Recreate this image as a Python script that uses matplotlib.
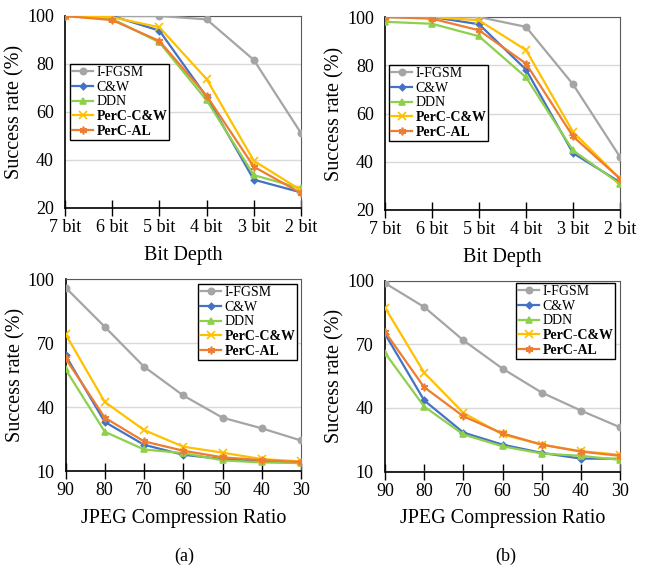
import matplotlib
matplotlib.use("Agg")
import matplotlib.pyplot as plt

# ---------------------------------------------------------------------------
# Data
# ---------------------------------------------------------------------------

METHODS = ["I-FGSM", "C&W", "DDN", "PerC-C&W", "PerC-AL"]
BIT_LABELS = ["7 bit", "6 bit", "5 bit", "4 bit", "3 bit", "2 bit"]
JPEG_LABELS = ["90", "80", "70", "60", "50", "40", "30"]

# (a) bit depth
bit_a_ifgsm = [100, 100, 100, 98.6, 81.7, 51.2]
bit_a_cw    = [100, 100, 93.9, 66.3, 31.8, 26.5]
bit_a_ddn   = [100, 98.8, 89.0, 64.9, 33.7, 28.2]
bit_a_pcw   = [100, 99.5, 95.3, 73.7, 39.7, 27.4]
bit_a_pal   = [100, 98.3, 89.6, 66.8, 37.2, 26.2]

# (b) bit depth
bit_b_ifgsm = [100, 100, 100, 95.9, 72.1, 42.0]
bit_b_cw    = [100, 100, 97.0, 78.2, 43.6, 31.5]
bit_b_ddn   = [98.0, 97.2, 92.0, 75.0, 44.7, 30.8]
bit_b_pcw   = [100, 100, 98.6, 86.3, 52.4, 33.0]
bit_b_pal   = [100, 99.3, 94.5, 80.7, 50.5, 33.0]

# (a) JPEG
jpg_a_ifgsm = [96.0, 77.6, 58.9, 45.4, 35.0, 30.0, 24.3]
jpg_a_cw    = [64.2, 33.0, 22.3, 17.6, 15.6, 14.5, 14.0]
jpg_a_ddn   = [57.7, 28.4, 20.1, 18.4, 15.0, 14.0, 13.7]
jpg_a_pcw   = [74.2, 42.4, 29.2, 21.4, 18.6, 15.6, 14.5]
jpg_a_pal   = [62.8, 35.0, 23.9, 19.5, 16.4, 15.1, 14.2]

# (b) JPEG
jpg_b_ifgsm = [99.0, 87.7, 72.0, 58.6, 47.3, 38.8, 30.9]
jpg_b_cw    = [75.0, 43.6, 28.4, 22.7, 18.8, 16.1, 16.0]
jpg_b_ddn   = [66.0, 40.7, 27.5, 21.9, 18.5, 17.4, 15.5]
jpg_b_pcw   = [87.4, 56.7, 37.7, 27.5, 22.7, 19.6, 17.9]
jpg_b_pal   = [76.0, 49.8, 36.1, 28.0, 22.7, 19.4, 17.4]

# ---------------------------------------------------------------------------
# Styles
# ---------------------------------------------------------------------------

COLORS  = ["#A5A5A5", "#4472C4", "#8ED04B", "#FFC000", "#ED7D31"]
MARKERS = ["o", "D", "^", "x", (6, 2, 0)]
MSIZES  = [4.5, 3.2, 4.5, 5.5, 5.5]

plt.rcParams["font.family"] = ["Liberation Serif", "DejaVu Serif"]

fig = plt.figure(figsize=(6.48, 5.69), dpi=100)
W, H = 648, 569


def px_axes(left, top, right, bottom):
    return fig.add_axes([left / W, 1 - bottom / H, (right - left) / W, (bottom - top) / H])


def draw_panel(ax, labels, series, ylim, yticks, xlabel, legend_box):
    xs = list(range(len(labels)))
    handles = []
    for vals, name, c, m, ms in zip(series, METHODS, COLORS, MARKERS, MSIZES):
        h, = ax.plot(xs, vals, color=c, marker=m, markersize=ms, linewidth=1.6,
                     markeredgewidth=1.2, label=name, zorder=3)
        handles.append(h)
    ax.set_xlim(0, len(labels) - 1)
    ax.set_ylim(*ylim)
    ax.set_yticks(yticks)
    ax.set_xticks(xs)
    ax.set_xticklabels(labels)
    ax.grid(axis="y", color="#D9D9D9", linewidth=1.0, zorder=0)
    ax.tick_params(axis="y", length=0, pad=8, labelsize=13)
    ax.tick_params(axis="x", direction="inout", length=12, width=1.0, pad=2, labelsize=13)
    for s in ("left", "bottom"):
        ax.spines[s].set_color("black")
        ax.spines[s].set_linewidth(1.2)
    for s in ("top", "right"):
        ax.spines[s].set_color("#595959")
        ax.spines[s].set_linewidth(0.8)
    ax.set_xlabel(xlabel, fontsize=14.5, labelpad=7)
    ax.set_ylabel("Success rate (%)", fontsize=14.5)
    ax.yaxis.set_label_coords(-0.172, 0.5)

    lx, ly = legend_box
    leg = ax.legend(handles=handles, loc="upper left",
                    bbox_to_anchor=(lx / W, 1 - ly / H),
                    bbox_transform=fig.transFigure,
                    fontsize=10, frameon=True, fancybox=False,
                    edgecolor="black", framealpha=1, borderpad=0.15,
                    labelspacing=0.12, handlelength=1.5, handletextpad=0.25,
                    borderaxespad=0)
    leg.get_frame().set_linewidth(1.0)
    for t in leg.get_texts()[3:]:
        t.set_fontweight("bold")


ax1 = px_axes(65, 16, 301, 208)
draw_panel(ax1, BIT_LABELS, [bit_a_ifgsm, bit_a_cw, bit_a_ddn, bit_a_pcw, bit_a_pal],
           (20, 100), [20, 40, 60, 80, 100], "Bit Depth", (70, 64))

ax2 = px_axes(385, 17, 620, 210)
draw_panel(ax2, BIT_LABELS, [bit_b_ifgsm, bit_b_cw, bit_b_ddn, bit_b_pcw, bit_b_pal],
           (20, 100), [20, 40, 60, 80, 100], "Bit Depth", (389, 65))

ax3 = px_axes(65.5, 279, 301, 471)
draw_panel(ax3, JPEG_LABELS, [jpg_a_ifgsm, jpg_a_cw, jpg_a_ddn, jpg_a_pcw, jpg_a_pal],
           (10, 100), [10, 40, 70, 100], "JPEG Compression Ratio", (198, 284))

ax4 = px_axes(385, 281, 620, 471.5)
draw_panel(ax4, JPEG_LABELS, [jpg_b_ifgsm, jpg_b_cw, jpg_b_ddn, jpg_b_pcw, jpg_b_pal],
           (10, 100), [10, 40, 70, 100], "JPEG Compression Ratio", (516, 283))

fig.text(184 / W, 1 - 556 / H, "(a)", ha="center", va="center", fontsize=13)
fig.text(506 / W, 1 - 556 / H, "(b)", ha="center", va="center", fontsize=13)

fig.savefig("out.png", dpi=100)
